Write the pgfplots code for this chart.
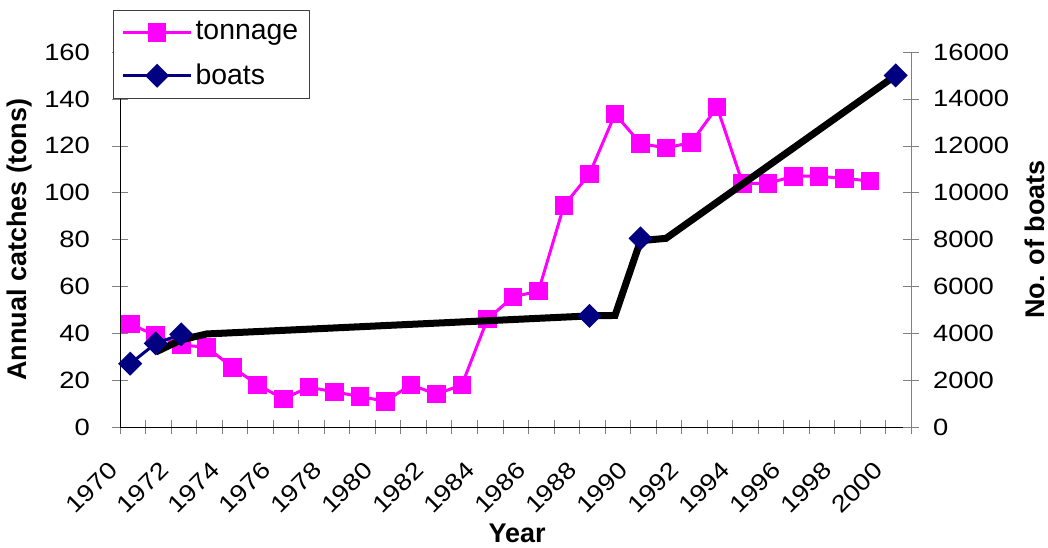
\documentclass[border=0pt]{standalone}
\usepackage{fontspec}
\setmainfont{Liberation Sans}
\newfontfamily\tickfont{Liberation Sans}[FakeStretch=1.16]
\usepackage{pgfplots}
\pgfplotsset{compat=1.18}
\definecolor{tonn}{RGB}{255,0,255}
\definecolor{boat}{RGB}{0,0,128}
\definecolor{axgray}{RGB}{128,128,128}
\pgfplotsset{
  common/.style={
    scale only axis, width=395.5pt, height=187.5pt,
    xmin=1969.6, xmax=2000.6,
    clip=false,
    tick align=center,
    major tick length=8pt,
    scaled ticks=false,
    /pgf/number format/1000 sep={},
    /pgf/number format/assume math mode=true,
  }
}
\begin{document}
\begin{tikzpicture}
\useasboundingbox (-60pt,-60pt) rectangle (464pt,213.5pt);
\begin{axis}[common,
  ymin=0, ymax=160,
  axis x line*=bottom, axis y line*=left,
  xtick={1970,1972,...,2000},
  xticklabels={1970,1972,1974,1976,1978,1980,1982,1984,1986,1988,1990,1992,1994,1996,1998,2000},
  minor xtick={1969.6,1970.6,...,2000.7},
  every major x tick/.style={draw=none},
  minor tick length=7pt,
  ytick={0,20,...,160},
  xticklabel style={font=\tickfont\fontsize{11.8}{12}\selectfont, anchor=east, xshift=-6pt, yshift=-13pt, rotate=45},
  yticklabel style={font=\tickfont\fontsize{11.8}{12}\selectfont, xshift=-7.5pt},
  every axis x label/.style={at={(axis description cs:0.502,-0.2827)}, anchor=center},
  every axis y label/.style={at={(axis description cs:-0.1264,0.5)}, rotate=90, anchor=center},
  label style={font=\bfseries\fontsize{13.5}{16}\selectfont},
  xlabel={Year},
  ylabel={Annual catches (tons)},
]
\addplot[tonn, line width=1.5pt, mark=square*, mark size=3.9pt] coordinates {
(1970,44) (1971,39) (1972,35) (1973,34) (1974,25.5) (1975,18) (1976,12)
(1977,17) (1978,15) (1979,13) (1980,11) (1981,18) (1982,14) (1983,18)
(1984,46) (1985,55.5) (1986,58) (1987,94.5) (1988,108) (1989,133.5)
(1990,121) (1991,119) (1992,121.5) (1993,136.5) (1994,104) (1995,104)
(1996,107) (1997,107) (1998,106) (1999,105)
};
\end{axis}
\begin{axis}[common,
  ymin=0, ymax=16000,
  axis x line=none, axis y line*=right,
  ytick={0,2000,...,16000},
  y axis line style={draw=axgray},
  yticklabel style={font=\tickfont\fontsize{11.8}{12}\selectfont, xshift=3.5pt},
  every axis y label/.style={at={(axis description cs:1.1568,0.5)}, rotate=90, anchor=center},
  label style={font=\bfseries\fontsize{13.5}{16}\selectfont},
  ylabel={No. of boats},
  legend style={at={(axis description cs:-0.00885,1.112)}, anchor=north west,
    draw=black!75, line width=0.6pt, fill=white,
    font=\fontsize{14.2}{16}\selectfont,
    nodes={inner sep=1.5pt},
    inner xsep=4pt, inner ysep=4pt, row sep=7.5pt},
  legend cell align=left,
  legend image code/.code={\draw[mark repeat=2,mark phase=2] plot coordinates {(0pt,0pt) (17pt,0pt) (34pt,0pt)};},
]
\addlegendimage{tonn, line width=1.5pt, mark=square*, mark size=3.9pt}
\addlegendentry{tonnage}
\addplot[boat, line width=1.5pt, mark=square*, mark size=3.5pt, mark options={rotate=45}, unbounded coords=jump] coordinates {
(1970,2700) (1971,3570) (1972,3950) (1973,nan) (1988,4740) (1989,nan) (1990,8050) (1991,nan) (2000,15000)
};
\addlegendentry{boats}
\addplot[black, line width=3.5pt, forget plot] coordinates {
(1971,3200) (1972,3720) (1973,3970) (1988,4740) (1989,4760) (1990,7950) (1991,8050) (2000,15000)
};
\end{axis}
\end{tikzpicture}
\end{document}
